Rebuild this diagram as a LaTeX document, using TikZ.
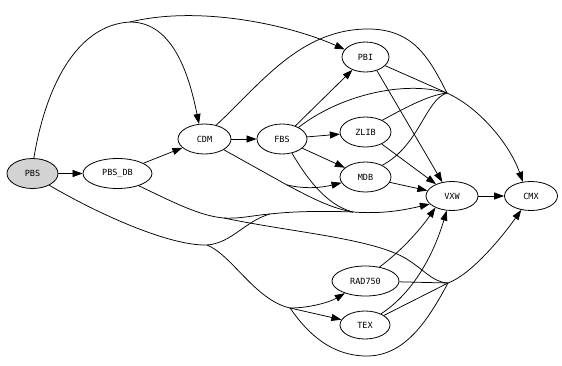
\documentclass[tikz,border=0pt]{standalone}
\usepackage{fontspec}
\newfontfamily\lblfont{DejaVu Sans Mono}
\usetikzlibrary{shapes.geometric,arrows.meta}
\definecolor{pbsgray}{RGB}{211,211,211}
\begin{document}
\begin{tikzpicture}[x=1pt,y=-1pt,
  nd/.style={ellipse,draw,line width=0.8pt,inner sep=0pt,minimum height=30pt,
    font=\lblfont\fontsize{8.5}{10}\selectfont},
  ln/.style={line width=0.75pt},
  arr/.style={ln,-{Triangle[length=10pt,width=7pt]}}]
\useasboundingbox (0,0) rectangle (562,365);
% nodes
\node[nd,minimum width=51pt,fill=pbsgray] (PBS) at (32.5,173.5) {PBS};
\node[nd,minimum width=69pt] (PBSDB) at (117.5,173.5) {PBS\_DB};
\node[nd,minimum width=53pt] (CDM) at (204.5,139) {CDM};
\node[nd,minimum width=50pt] (FBS) at (282,139) {FBS};
\node[nd,minimum width=47pt] (PBI) at (365.5,57) {PBI};
\node[nd,minimum width=51pt] (ZLIB) at (365.5,132) {ZLIB};
\node[nd,minimum width=51pt] (MDB) at (365.5,177) {MDB};
\node[nd,minimum width=52pt,minimum height=29pt] (VXW) at (452,196) {VXW};
\node[nd,minimum width=53pt,minimum height=29pt] (CMX) at (531,196) {CMX};
\node[nd,minimum width=67pt] (RAD) at (365.5,281) {RAD750};
\node[nd,minimum width=50pt,minimum height=28pt] (TEX) at (365,325) {TEX};
% junction points
\coordinate (j1) at (130,22);
\coordinate (jc) at (447,93);
\coordinate (jm) at (287,185);
\coordinate (jv) at (353,212);
\coordinate (jp) at (207,245);
\coordinate (jd) at (224,218);
\coordinate (jq) at (270,214);
\coordinate (jt) at (290,308);
\coordinate (jb) at (448,283);
% edges
\draw[arr] (PBS) -- (PBSDB);
\draw[arr] (PBSDB) -- (CDM);
\draw[ln] (PBS.85) .. controls (45,90) and (75,25) .. (j1);
\draw[arr] (j1) .. controls (175,22) and (190,80) .. (CDM.110);
\draw[arr] (j1) .. controls (200,5) and (290,25) .. (PBI.160);
\draw[arr] (CDM) -- (FBS);
\draw[ln] (CDM.50) .. controls (260,85) and (300,28) .. (370,29) .. controls (415,30) and (430,60) .. (jc);
\draw[arr] (jc) .. controls (480,108) and (510,145) .. (CMX.120);
\draw[ln] (PBI) -- (jc);
\draw[ln] (FBS.35) .. controls (340,95) and (405,80) .. (jc);
\draw[ln] (ZLIB.35) .. controls (410,105) and (430,95) .. (jc);
\draw[ln] (MDB.35) .. controls (420,145) and (425,100) .. (jc);
\draw[arr] (PBI.-50) -- (VXW.125);
\draw[arr] (FBS) -- (PBI);
\draw[arr] (FBS) -- (ZLIB);
\draw[arr] (FBS) -- (MDB);
\draw[arr] (ZLIB) -- (VXW);
\draw[arr] (MDB) -- (VXW);
\draw[ln] (CDM) -- (jm);
\draw[arr] (jm) .. controls (305,189) and (320,188) .. (MDB);
\draw[ln] (jm) .. controls (310,197) and (330,208) .. (jv);
\draw[ln] (FBS.-55) .. controls (305,175) and (325,205) .. (jv);
\draw[arr] (jv) .. controls (380,214) and (400,211) .. (VXW.200);
\draw[ln] (PBS.-35) .. controls (100,215) and (170,246) .. (jp);
\draw[ln] (jp) .. controls (232,243) and (245,221) .. (jq);
\draw[ln] (PBSDB.-30) .. controls (175,203) and (200,216) .. (jd) .. controls (240,219) and (255,215) .. (jq) .. controls (295,211) and (330,211) .. (jv);
\draw[ln] (jd) .. controls (290,232) and (370,238) .. (405,258) .. controls (425,270) and (432,282) .. (jb);
\draw[ln] (jp) .. controls (232,255) and (255,300) .. (jt);
\draw[arr] (jt) .. controls (310,308) and (330,302) .. (RAD);
\draw[arr] (jt) -- (TEX);
\draw[ln] (jt) .. controls (302,325) and (325,355) .. (365,356) .. controls (405,357) and (428,320) .. (jb);
\draw[ln] (RAD) -- (jb);
\draw[ln] (TEX) -- (jb);
\draw[arr] (jb) .. controls (470,275) and (500,240) .. (CMX.-125);
\draw[arr] (RAD.45) .. controls (400,252) and (420,230) .. (VXW.-145);
\draw[arr] (TEX.35) .. controls (410,295) and (432,260) .. (VXW.-110);
\draw[arr] (VXW) -- (CMX);
\end{tikzpicture}
\end{document}
